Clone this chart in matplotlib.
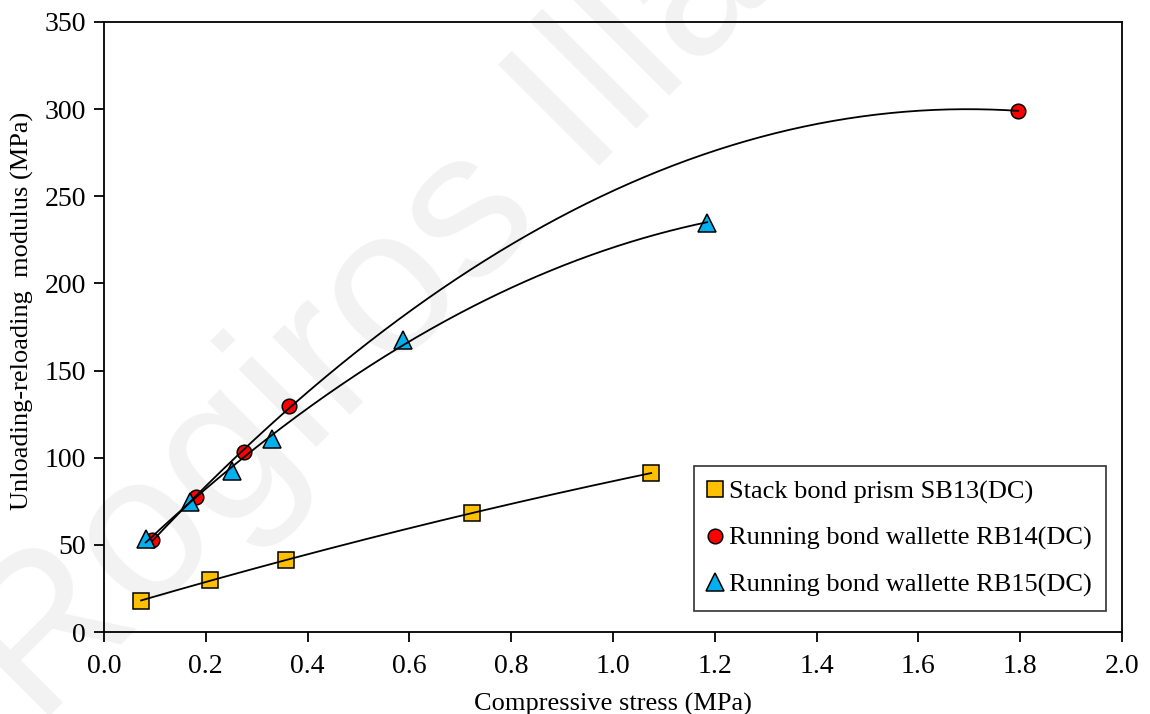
import numpy as np
import matplotlib
matplotlib.use("Agg")
import matplotlib.pyplot as plt

# Data
sb13_x = [0.073, 0.208, 0.358, 0.723, 1.075]
sb13_y = [18.0, 29.7, 41.1, 68.3, 91.2]

rb14_x = [0.094, 0.180, 0.276, 0.363, 1.796]
rb14_y = [52.8, 77.4, 103.1, 129.8, 299.0]

rb15_x = [0.082, 0.169, 0.252, 0.331, 0.587, 1.185]
rb15_y = [53.4, 74.8, 92.5, 110.5, 167.5, 234.7]

labels = ["Stack bond prism SB13(DC)",
          "Running bond wallette RB14(DC)",
          "Running bond wallette RB15(DC)"]
colors = ["#FFC000", "#FF0000", "#00B0F0"]
markers = ["s", "o", "^"]
msizes = [11, 10.5, 13]

xticks = [0.0, 0.2, 0.4, 0.6, 0.8, 1.0, 1.2, 1.4, 1.6, 1.8, 2.0]
yticks = [0, 50, 100, 150, 200, 250, 300, 350]

plt.rcParams['font.family'] = ['Liberation Serif', 'DejaVu Serif']

fig = plt.figure(figsize=(11.5, 7.14), dpi=100)
# watermark
fig.text(0.32, 0.55, "Rogiros Illa", fontsize=150, color="#f2f2f2",
         rotation=45, ha="center", va="center", family="Liberation Sans",
         zorder=-5)

ax = fig.add_axes([0.0904, 0.1148, 0.9757 - 0.0904, 0.9692 - 0.1148])
ax.set_facecolor("none")

series = [(sb13_x, sb13_y), (rb14_x, rb14_y), (rb15_x, rb15_y)]
handles = []
for (xs, ys), lab, c, m, ms in zip(series, labels, colors, markers, msizes):
    h, = ax.plot(xs, ys, linestyle="none", marker=m, markersize=ms,
                 markerfacecolor=c, markeredgecolor="black",
                 markeredgewidth=1.1, label=lab, zorder=3)
    handles.append(h)
    coef = np.polyfit(xs, ys, 2)
    xx = np.linspace(min(xs), max(xs), 300)
    ax.plot(xx, np.polyval(coef, xx), color="black", lw=1.3, zorder=4)

ax.set_xlim(0, 2.0)
ax.set_ylim(0, 350)
ax.set_xticks(xticks)
ax.set_xticklabels([f"{v:.1f}" for v in xticks])
ax.set_yticks(yticks)
ax.tick_params(direction="out", length=7, width=1.3, labelsize=20,
               top=False, right=False)
ax.tick_params(axis="x", pad=9)
ax.tick_params(axis="y", pad=6)
for s in ax.spines.values():
    s.set_linewidth(1.3)

ax.set_xlabel("Compressive stress (MPa)", fontsize=19, labelpad=10)
ax.set_ylabel("Unloading-reloading  modulus (MPa)", fontsize=19)
ax.yaxis.set_label_coords(-0.069, 0.526)

leg = ax.legend(handles=handles, loc="lower right", fontsize=19,
                frameon=True, fancybox=False, edgecolor="black",
                handlelength=0.45, handletextpad=0.3, labelspacing=0.85,
                borderpad=0.55, borderaxespad=0,
                bbox_to_anchor=(0.984, 0.034))
leg.get_frame().set_linewidth(1.2)

fig.savefig("out.png", dpi=100)
